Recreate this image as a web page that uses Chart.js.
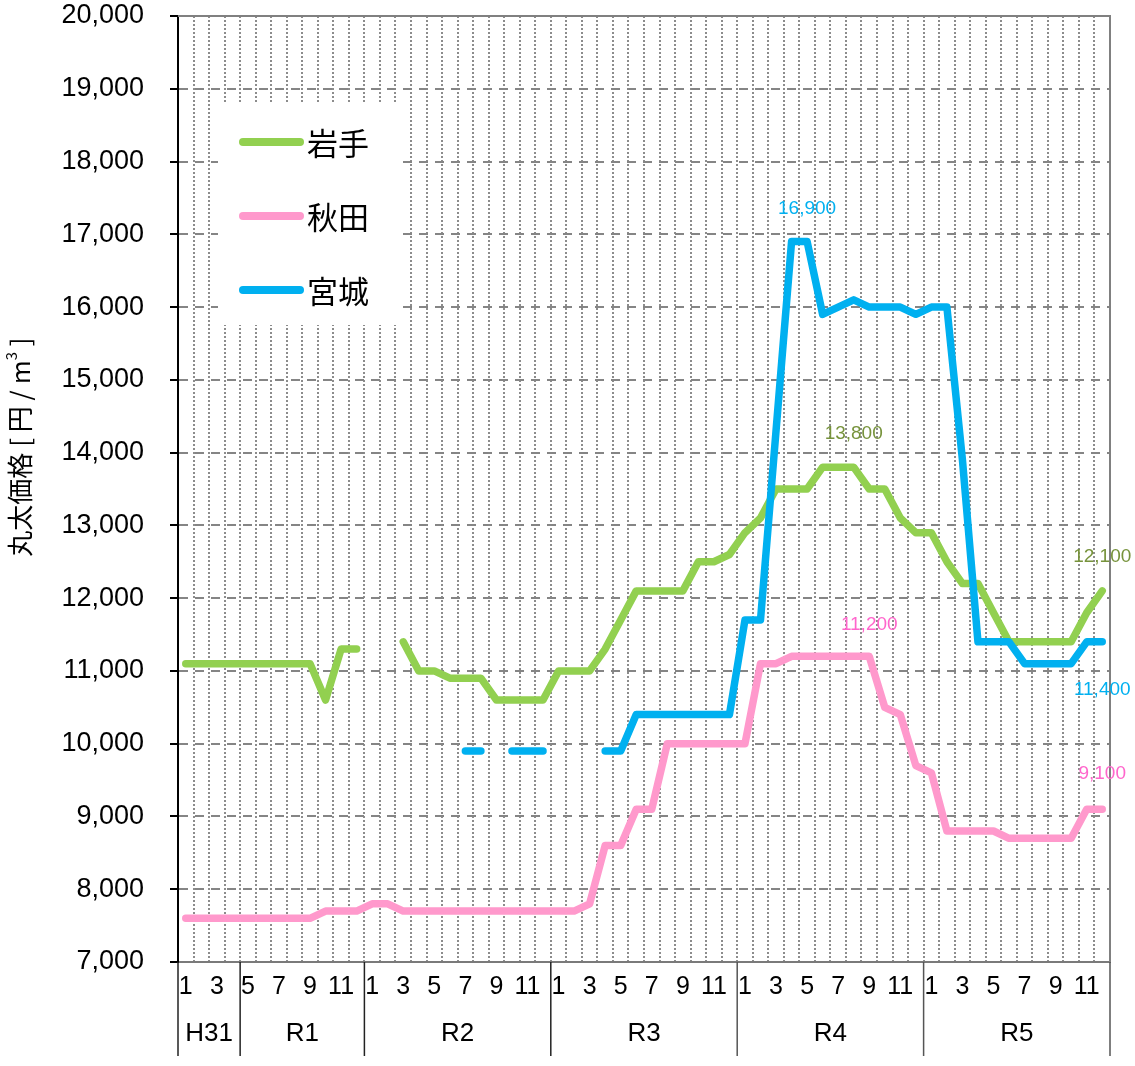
<!DOCTYPE html>
<html>
<head>
<meta charset="utf-8">
<script src="https://cdn.jsdelivr.net/npm/chart.js@4/dist/chart.umd.min.js"></script>
<style>
  html,body{margin:0;padding:0;background:#fff;}
  canvas{display:block;}
</style>
</head>
<body>
<canvas id="c" width="1135" height="1066"></canvas>
<script>
/* ===== 丸太価格 (岩手・秋田・宮城) — monthly chart ===== */

// months, H31/1 .. R5/12
const MONTHS = [1,2,3,4, 5,6,7,8,9,10,11,12,
  1,2,3,4,5,6,7,8,9,10,11,12,
  1,2,3,4,5,6,7,8,9,10,11,12,
  1,2,3,4,5,6,7,8,9,10,11,12,
  1,2,3,4,5,6,7,8,9,10,11,12];
const YEARS = ["H31","R1","R2","R3","R4","R5"];
const YEAR_SPAN = [4,8,12,12,12,12];   // months in each year group

const IWATE = [11100,11100,11100,11100, 11100,11100,11100,11100,11100,10600,11300,11300,
  null,null,11400,11000,11000,10900,10900,10900,10600,10600,10600,10600,
  11000,11000,11000,11300,11700,12100,12100,12100,12100,12500,12500,12600,
  12900,13100,13500,13500,13500,13800,13800,13800,13500,13500,13100,12900,
  12900,12500,12200,12200,11800,11400,11400,11400,11400,11400,11800,12100];
const AKITA = [7600,7600,7600,7600, 7600,7600,7600,7600,7600,7700,7700,7700,
  7800,7800,7700,7700,7700,7700,7700,7700,7700,7700,7700,7700,
  7700,7700,7800,8600,8600,9100,9100,10000,10000,10000,10000,10000,
  10000,11100,11100,11200,11200,11200,11200,11200,11200,10500,10400,9700,
  9600,8800,8800,8800,8800,8700,8700,8700,8700,8700,9100,9100];
const MIYAGI = [null,null,null,null, null,null,null,null,null,null,null,null,
  null,null,null,null,null,null,9900,9900,null,9900,9900,9900,
  null,null,null,9900,9900,10400,10400,10400,10400,10400,10400,10400,
  11700,11700,14300,16900,16900,15900,16000,16100,16000,16000,16000,15900,
  16000,16000,13900,11400,11400,11400,11100,11100,11100,11100,11400,11400];

const Y_MIN = 7000, Y_MAX = 20000, Y_STEP = 1000;

const C_IWATE = "#92d050", C_AKITA = "#ff99cc", C_MIYAGI = "#00b0f0";

// value labels: [dataset, index, colour, offset]
const VALUE_LABELS = [
  [2, 40, "#00b0f0", -33],
  [0, 43, "#77933c", -33],
  [0, 59, "#77933c", -34],
  [1, 44, "#ff66cc", -32],
  [2, 59, "#00b0f0", 48],
  [1, 59, "#ff66cc", -35]
];

const FONT = "'Liberation Sans', Arial, sans-serif";
const JFONT = "'Noto Sans CJK JP', sans-serif";
const fmt = v => Number(v).toLocaleString("en-US");

// frame, legend box, year row, axis title, value labels
const extras = {
  id: "extras",
  beforeDatasetsDraw(chart){
    const {ctx, chartArea:a} = chart;
    ctx.save();
    // plot frame (top + right)
    ctx.strokeStyle = "#808080"; ctx.lineWidth = 2;
    ctx.beginPath();
    ctx.moveTo(a.left, a.top); ctx.lineTo(a.right, a.top); ctx.lineTo(a.right, a.bottom);
    ctx.stroke();
    // legend
    ctx.fillStyle = "#fff";
    ctx.fillRect(218, 103, 182, 222);
    const items = [["岩手", C_IWATE], ["秋田", C_AKITA], ["宮城", C_MIYAGI]];
    items.forEach(([t, c], k) => {
      const y = 142 + k*74;
      ctx.strokeStyle = c; ctx.lineWidth = 8; ctx.lineCap = "round";
      ctx.beginPath(); ctx.moveTo(243, y); ctx.lineTo(300, y); ctx.stroke();
      ctx.fillStyle = "#000"; ctx.font = "31px " + JFONT;
      ctx.textAlign = "left"; ctx.textBaseline = "middle";
      ctx.fillText(t, 307, y + 1);
    });
    ctx.restore();
  },
  afterDraw(chart){
    const {ctx, chartArea:a} = chart;
    const x = chart.scales.x;
    ctx.save();
    // year groups under the month ticks
    const bound = i => i <= 0 ? a.left : i >= MONTHS.length ? a.right
      : (x.getPixelForValue(i-1) + x.getPixelForValue(i)) / 2;
    ctx.lineWidth = 1.5;
    let start = 0;
    ctx.strokeStyle = "#222";
    ctx.beginPath(); ctx.moveTo(a.left, a.bottom); ctx.lineTo(a.left, 1056); ctx.stroke();
    YEARS.forEach((yr, k) => {
      const end = start + YEAR_SPAN[k];
      const x0 = bound(start), x1 = bound(end);
      ctx.strokeStyle = k >= 3 ? "#555" : "#222";
      ctx.beginPath(); ctx.moveTo(x1, a.bottom); ctx.lineTo(x1, 1056); ctx.stroke();
      ctx.fillStyle = "#000"; ctx.font = "26px " + FONT;
      ctx.textAlign = "center"; ctx.textBaseline = "middle";
      ctx.fillText(yr, (x0 + x1) / 2, 1034);
      start = end;
    });
    // y axis title, rotated
    ctx.translate(20, 447);
    ctx.rotate(-Math.PI/2);
    ctx.fillStyle = "#000"; ctx.textBaseline = "middle"; ctx.textAlign = "left";
    const p1 = "丸太価格 [ 円 / m", p2 = "3", p3 = " ]";
    ctx.font = "26px " + JFONT; const w1 = ctx.measureText(p1).width, w3 = ctx.measureText(p3).width;
    ctx.font = "15px " + JFONT; const w2 = ctx.measureText(p2).width;
    let sx = -(w1 + w2 + w3) / 2;
    ctx.font = "26px " + JFONT; ctx.fillText(p1, sx, 0); sx += w1;
    ctx.font = "15px " + JFONT; ctx.fillText(p2, sx, -9); sx += w2;
    ctx.font = "26px " + JFONT; ctx.fillText(p3, sx, 0);
    ctx.setTransform(1,0,0,1,0,0);
    // value labels
    ctx.font = "19px " + FONT; ctx.textAlign = "center"; ctx.textBaseline = "middle";
    VALUE_LABELS.forEach(([ds, i, col, dy]) => {
      const pt = chart.getDatasetMeta(ds).data[i];
      const v = chart.data.datasets[ds].data[i];
      ctx.fillStyle = col;
      ctx.fillText(fmt(v), pt.x, pt.y + dy);
    });
    ctx.restore();
  }
};

const line = (label, data, color, order) => ({
  label, data, order,
  borderColor: color, backgroundColor: color,
  borderWidth: 7.5, pointRadius: 0, pointHoverRadius: 0,
  borderCapStyle: "round", borderJoinStyle: "round",
  tension: 0, spanGaps: false, fill: false
});

new Chart(document.getElementById("c"), {
  type: "line",
  data: {
    labels: MONTHS.map(String),
    datasets: [
      line("岩手", IWATE, C_IWATE, 1),
      line("秋田", AKITA, C_AKITA, 2),
      line("宮城", MIYAGI, C_MIYAGI, 0)
    ]
  },
  options: {
    responsive: false,
    animation: false,
    layout: { padding: { top: 16, right: 25, left: 0, bottom: 0 } },
    plugins: { legend: { display: false }, tooltip: { enabled: false } },
    scales: {
      x: {
        offset: true,
        grid: { offset: true, color: "#8c8c8c", lineWidth: 2, drawTicks: false },
        border: { color: "#7a7a7a", width: 2, dash: [2, 2] },
        ticks: {
          autoSkip: false, maxRotation: 0, minRotation: 0, padding: 10,
          color: "#000", font: { size: 25, family: FONT },
          callback: (v, i) => MONTHS[i] % 2 ? String(MONTHS[i]) : ""
        },
        afterFit: s => { s.height = 104; s.paddingLeft = 0; s.paddingRight = 0; }
      },
      y: {
        min: Y_MIN, max: Y_MAX,
        grid: { color: "#858585", lineWidth: 2, tickLength: 8, tickColor: "#000", tickWidth: 2 },
        border: { color: "#000", width: 2, dash: [9, 7] },
        ticks: {
          stepSize: Y_STEP, padding: 26, color: "#000",
          font: { size: 27, family: FONT },
          callback: v => fmt(v)
        },
        afterFit: s => { s.width = 178; s.paddingTop = 0; s.paddingBottom = 0; }
      }
    }
  },
  plugins: [extras]
});
</script>
</body>
</html>
